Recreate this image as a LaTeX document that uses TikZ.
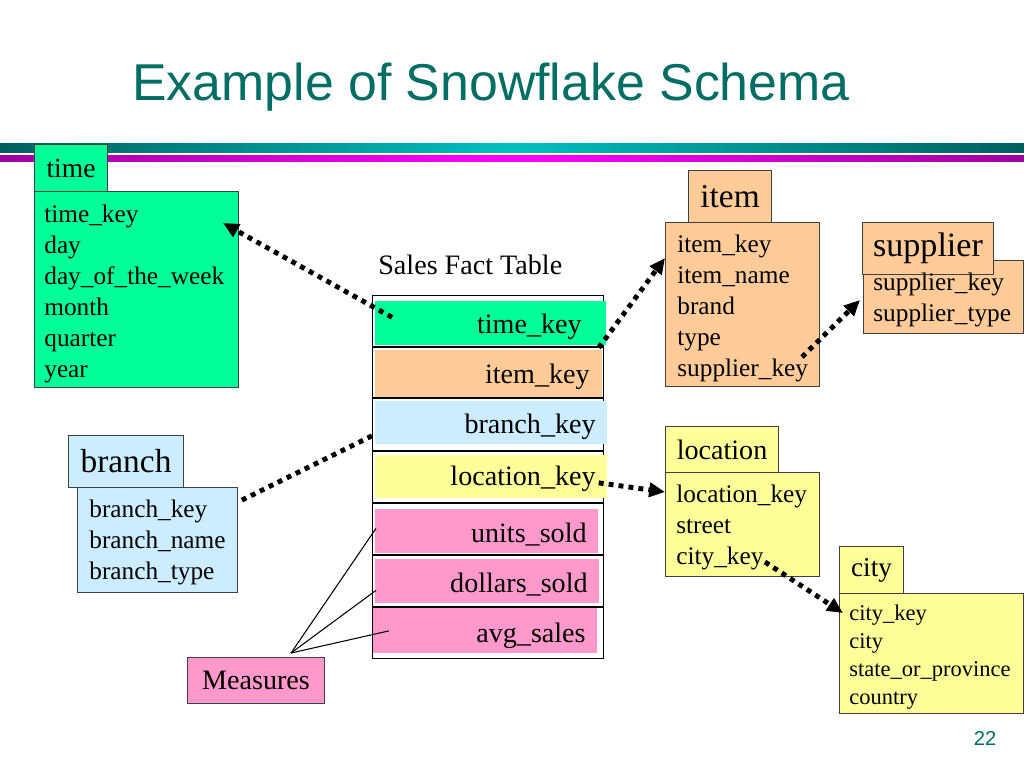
\documentclass[tikz,border=0pt]{standalone}
\usepackage[RGB]{xcolor}
\usepackage{fontspec}
\setmainfont{Liberation Serif}
\newfontfamily\titlefont{Liberation Sans}
\usetikzlibrary{arrows.meta,calc}
\definecolor{G}{RGB}{0,255,153}
\definecolor{O}{RGB}{255,204,153}
\definecolor{B}{RGB}{204,236,255}
\definecolor{Y}{RGB}{255,255,153}
\definecolor{P}{RGB}{255,153,204}
\definecolor{T}{RGB}{0,110,100}
\definecolor{Tdark}{RGB}{0,95,95}
\definecolor{Tlight}{RGB}{0,192,192}
\definecolor{Mdark}{RGB}{160,0,160}
\definecolor{Mlight}{RGB}{255,0,255}
\newcommand{\fsize}[2]{\fontsize{#1}{#2}\selectfont}
\tikzset{
  bx/.style 2 args={minimum width=#1*0.02cm, minimum height=#2*0.02cm},
  box/.style={draw=black!75, line width=0.6pt, anchor=north west, inner sep=0pt},
  % base west of a multi-line node is the baseline of its last line
  fields/.style={anchor=base west, align=left, inner sep=0pt, font=\fsize{14.4}{17.6}},
  keydots/.style={line width=2.8pt, dash pattern=on 2.8pt off 2.9pt},
  keyarrow/.style={keydots, -{Triangle[length=9pt,width=8pt]}},
}
\begin{document}
\begin{tikzpicture}[x=0.02cm, y=-0.02cm]
\useasboundingbox (0,0) rectangle (1024,768);
% title and bars
\node[anchor=base, text=T, font=\titlefont\fsize{29.5}{34}] (title) at (491,100) {Example of Snowflake Schema};
\shade[left color=Tdark, right color=Tdark, middle color=Tlight] (0,143) rectangle (1024,152);
\shade[left color=Mdark, right color=Mdark, middle color=Mlight] (0,155) rectangle (1024,161);
% time
\node[box, bx={73}{47}, fill=G, font=\fsize{15.7}{18}] (timehead) at (34,144) {time};
\node[box, bx={204}{196}, fill=G] (timebody) at (34,191) {};
\node[fields] (timefields) at ($(timebody.north west)+(10,186)$) {time\_key\\day\\day\_of\_the\_week\\month\\quarter\\year};
% branch
\node[box, bx={115}{52}, fill=B, font=\fsize{19}{22}] (branchhead) at (68,435) {branch};
\node[box, bx={160}{105}, fill=B] (branchbody) at (77,487) {};
\node[fields] (branchfields) at ($(branchbody.north west)+(12,92)$) {branch\_key\\branch\_name\\branch\_type};
% item
\node[box, bx={83}{52}, fill=O, font=\fsize{19}{22}] (itemhead) at (688,170) {item};
\node[box, bx={154}{164}, fill=O] (itembody) at (665,222) {};
\node[fields] (itemfields) at ($(itembody.north west)+(12,154)$) {item\_key\\item\_name\\brand\\type\\supplier\_key};
% supplier
\node[box, bx={160}{73}, fill=O] (supbody) at (863,260) {};
\node[box, bx={131}{52}, fill=O, font=\fsize{19.4}{22}] (suphead) at (862,222) {supplier};
\node[fields] (supfields) at ($(supbody.north west)+(10,61)$) {supplier\_key\\supplier\_type};
% location
\node[box, bx={113}{46}, fill=Y, font=\fsize{16}{19}] (lochead) at (665,426) {location};
\node[box, bx={154}{104}, fill=Y] (locbody) at (665,472) {};
\node[fields] (locfields) at ($(locbody.north west)+(11,92)$) {location\_key\\street\\city\_key};
% city
\node[box, bx={64}{47}, fill=Y, font=\fsize{15.5}{18}] (cityhead) at (839,546) {city};
\node[box, bx={184}{120}, fill=Y] (citybody) at (839,593) {};
\node[fields, font=\fsize{12.8}{15.9}] (cityfields) at ($(citybody.north west)+(10,111)$) {city\_key\\city\\state\_or\_province\\country};
% fact table
\node[anchor=base west, inner sep=0pt, font=\fsize{16}{19}] (facttitle) at (378,274) {Sales Fact Table};
\node[box, bx={231}{363}, draw=black, fill=white] (fact) at (372,295) {};
\foreach \y in {347,398,451,503,555,607}
  \draw[line width=1.2pt] (372,\y) -- (603,\y);
\foreach \n/\c/\l/\t/\w/\h/\r/\b/\txt in {
    rowtime/G/375/301/231/44/582/333/time\_key,
    rowitem/O/375/350/227/47/590/383/item\_key,
    rowbranch/B/375/401/232/43/596/433/branch\_key,
    rowloc/Y/375/455/232/43/596/485/location\_key,
    rowunits/P/375/509/223/44/587/542/units\_sold,
    rowdollars/P/375/559/224/44/588/592/dollars\_sold,
    rowavg/P/373/608/224/45/586/642/avg\_sales}{
  \node[anchor=north west, inner sep=0pt, fill=\c, bx={\w}{\h}] (\n) at (\l,\t) {};
  \node[anchor=base east, inner sep=0pt, font=\fsize{16}{19}] (\n txt) at (\r,\b) {\txt};
}
% measures
\node[box, bx={137}{46}, fill=P, font=\fsize{16}{19}] (measures) at (187,657) {Measures};
\coordinate (mjoin) at ($(measures.north)+(35,-4)$);
\draw[line width=0.6pt] (mjoin) -- ($(rowunits.west)+(1,-3)$);
\draw[line width=0.6pt] (mjoin) -- ($(rowdollars.west)+(1,9)$);
\draw[line width=0.6pt] (mjoin) -- ($(rowavg.west)+(16,0)$);
% key links
\draw[keyarrow] ($(rowtime.west)+(17,-6)$) -- ($(timebody.north west)+(189,32)$);
\draw[keyarrow] ($(rowtime.south east)+(-8,2)$) -- ($(itembody.north west)+(0,36)$);
\draw[keydots] ($(rowbranch.west)+(-3,13)$) -- ($(branchbody.north east)+(0,15)$);
\draw[keyarrow] ($(rowloc.east)+(-9,6)$) -- ($(locbody.north west)+(0,20)$);
\draw[keyarrow] ($(itembody.north west)+(137,135)$) -- ($(supbody.north west)+(-3,40)$);
\draw[keyarrow] ($(locbody.north west)+(100,90)$) -- ($(citybody.north west)+(4,20)$);
% page number
\node[anchor=base, text=T, font=\titlefont\fsize{11.5}{14}] (pageno) at (985,745) {22};
\end{tikzpicture}
\end{document}
